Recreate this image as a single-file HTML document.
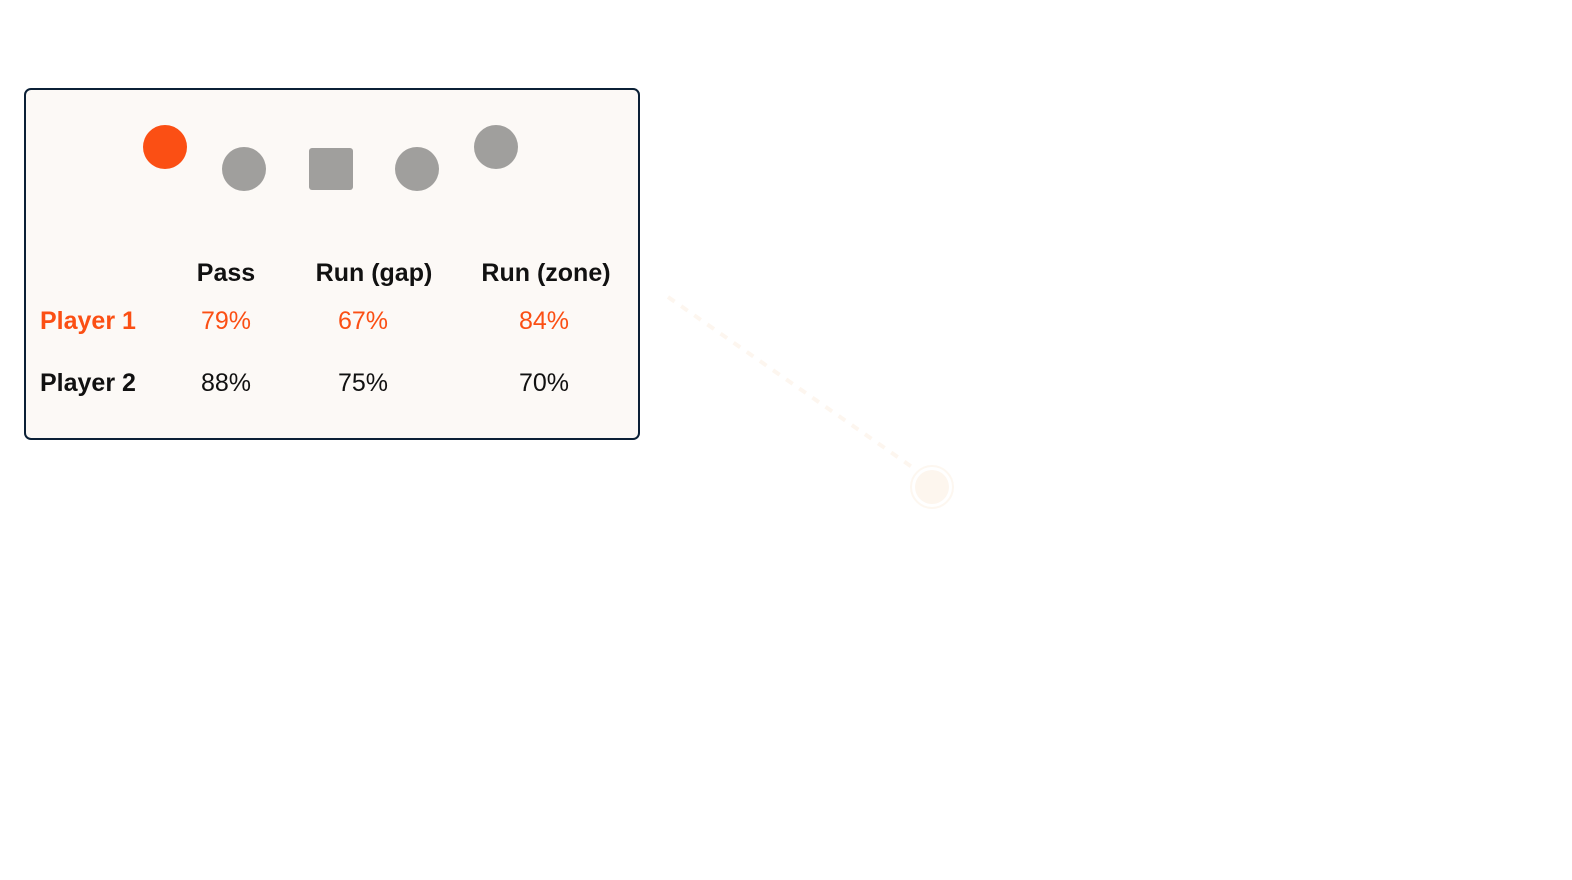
<!DOCTYPE html>
<html><head><meta charset="utf-8"><style>
html,body{margin:0;padding:0;background:#fff;width:1572px;height:880px;overflow:hidden}
svg{display:block}
text{font-family:"Liberation Sans",sans-serif;font-size:25px}
</style></head><body>
<svg width="1572" height="880" viewBox="0 0 1572 880">
<rect x="25" y="89" width="614" height="350" rx="6" fill="#fcf9f6" stroke="#0b2036" stroke-width="2"/>
<circle cx="165" cy="147" r="22" fill="#fb4f14"/>
<circle cx="244" cy="169" r="22" fill="#a09f9d"/>
<rect x="309" y="148" width="44" height="42" rx="3" fill="#a09f9d"/>
<circle cx="417" cy="169" r="22" fill="#a09f9d"/>
<circle cx="496" cy="147" r="22" fill="#a09f9d"/>
<g font-weight="bold" fill="#111" text-anchor="middle">
<text x="226" y="281">Pass</text>
<text x="374" y="281">Run (gap)</text>
<text x="546" y="281">Run (zone)</text>
</g>
<text x="40" y="329" font-weight="bold" fill="#fb4f14">Player 1</text>
<text x="40" y="391" font-weight="bold" fill="#111">Player 2</text>
<g text-anchor="middle" fill="#fb4f14">
<text x="226" y="329">79%</text>
<text x="363" y="329">67%</text>
<text x="544" y="329">84%</text>
</g>
<g text-anchor="middle" fill="#111">
<text x="226" y="391">88%</text>
<text x="363" y="391">75%</text>
<text x="544" y="391">70%</text>
</g>
<line x1="668" y1="297" x2="912" y2="467" stroke="#fdf6ef" stroke-width="4" stroke-dasharray="8 8"/>
<circle cx="932" cy="487" r="21" fill="none" stroke="#fdf7f0" stroke-width="2"/>
<circle cx="932" cy="487" r="17" fill="#fdf6ee"/>
</svg>
</body></html>
